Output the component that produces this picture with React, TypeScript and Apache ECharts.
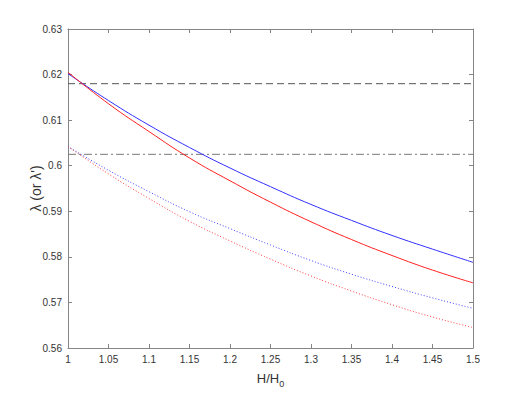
import React, { useEffect, useRef } from "react";
import * as echarts from "echarts";

const xs = [1.0, 1.05, 1.1, 1.15, 1.2, 1.25, 1.3, 1.35, 1.4, 1.45, 1.5];
const blueSolid = [0.6202, 0.6143, 0.6089, 0.604, 0.5995, 0.5954, 0.5915, 0.588, 0.5847, 0.5817, 0.5788];
const redSolid = [0.6205, 0.6136, 0.6075, 0.6017, 0.5967, 0.592, 0.5877, 0.5838, 0.5803, 0.5771, 0.5743];
const blueDotted = [0.6042, 0.599, 0.5943, 0.5899, 0.5862, 0.5826, 0.5792, 0.5762, 0.5735, 0.571, 0.5687];
const redDotted = [0.6042, 0.5982, 0.5928, 0.5878, 0.5835, 0.5795, 0.5758, 0.5725, 0.5695, 0.5668, 0.5645];
const dashedLevel = 0.618;
const dashDotLevel = 0.6025;
const xRange = [1, 1.5];
const yRange = [0.56, 0.63];

const pairs = (ys: number[]) => xs.map((x, i) => [x, ys[i]]);

export default function App() {
  const ref = useRef<HTMLDivElement>(null);
  useEffect(() => {
    if (!ref.current) return;
    const chart = echarts.init(ref.current, undefined, { renderer: "svg" });
    const font = "Liberation Sans, Arial, sans-serif";
    const axisLine = { show: true, lineStyle: { color: "#858585", width: 1 } };
    const tick = { show: true, inside: true, length: 4, lineStyle: { color: "#858585" } };
    chart.setOption({
      animation: false,
      backgroundColor: "#ffffff",
      grid: { left: 68, right: 50, top: 29, bottom: 44 },
      xAxis: [
        {
          type: "value",
          min: xRange[0],
          max: xRange[1],
          interval: 0.05,
          axisLine,
          axisTick: tick,
          splitLine: { show: false },
          axisLabel: { color: "#333", fontSize: 10, fontFamily: font, margin: 6 },
          name: "{a|H/H}{s|0}",
          nameLocation: "middle",
          nameGap: 21,
          nameMoveOverlap: false,
          nameTextStyle: {
            rich: {
              a: { fontSize: 13, fontFamily: font, color: "#333" },
              s: { fontSize: 9, fontFamily: font, color: "#333", verticalAlign: "bottom", padding: [10, 0, 0, 0] },
            },
          },
        },
        {
          type: "value",
          position: "top",
          min: xRange[0],
          max: xRange[1],
          interval: 0.05,
          axisLine,
          axisTick: tick,
          axisLabel: { show: false },
          splitLine: { show: false },
        },
      ],
      yAxis: [
        {
          type: "value",
          min: yRange[0],
          max: yRange[1],
          interval: 0.01,
          axisLine,
          axisTick: tick,
          splitLine: { show: false },
          axisLabel: { color: "#333", fontSize: 10, fontFamily: font, margin: 6 },
          name: "λ (or λ')",
          nameLocation: "middle",
          nameGap: 25,
          nameMoveOverlap: false,
          nameTextStyle: { fontSize: 14, fontFamily: font, color: "#333" },
        },
        {
          type: "value",
          position: "right",
          min: yRange[0],
          max: yRange[1],
          interval: 0.01,
          axisLine,
          axisTick: tick,
          axisLabel: { show: false },
          splitLine: { show: false },
        },
      ],
      series: [
        {
          type: "line",
          data: [[xRange[0], dashedLevel], [xRange[1], dashedLevel]],
          symbol: "none",
          lineStyle: { color: "#555555", width: 1, type: [7, 4] },
        },
        {
          type: "line",
          data: [[xRange[0], dashDotLevel], [xRange[1], dashDotLevel]],
          symbol: "none",
          lineStyle: { color: "#777777", width: 1, type: [8, 3, 2, 3] },
        },
        {
          type: "line",
          data: pairs(blueSolid),
          smooth: true,
          symbol: "none",
          lineStyle: { color: "#3030ff", width: 1 },
        },
        {
          type: "line",
          data: pairs(redSolid),
          smooth: true,
          symbol: "none",
          lineStyle: { color: "#ff2020", width: 1 },
        },
        {
          type: "line",
          data: pairs(blueDotted),
          smooth: true,
          symbol: "none",
          lineStyle: { color: "#4040ff", width: 1, type: [1, 2] },
        },
        {
          type: "line",
          data: pairs(redDotted),
          smooth: true,
          symbol: "none",
          lineStyle: { color: "#ff4040", width: 1, type: [1, 2] },
        },
      ],
    });
    return () => chart.dispose();
  }, []);
  return <div ref={ref} style={{ width: 523, height: 393, position: "absolute", left: 0, top: 0 }} />;
}
